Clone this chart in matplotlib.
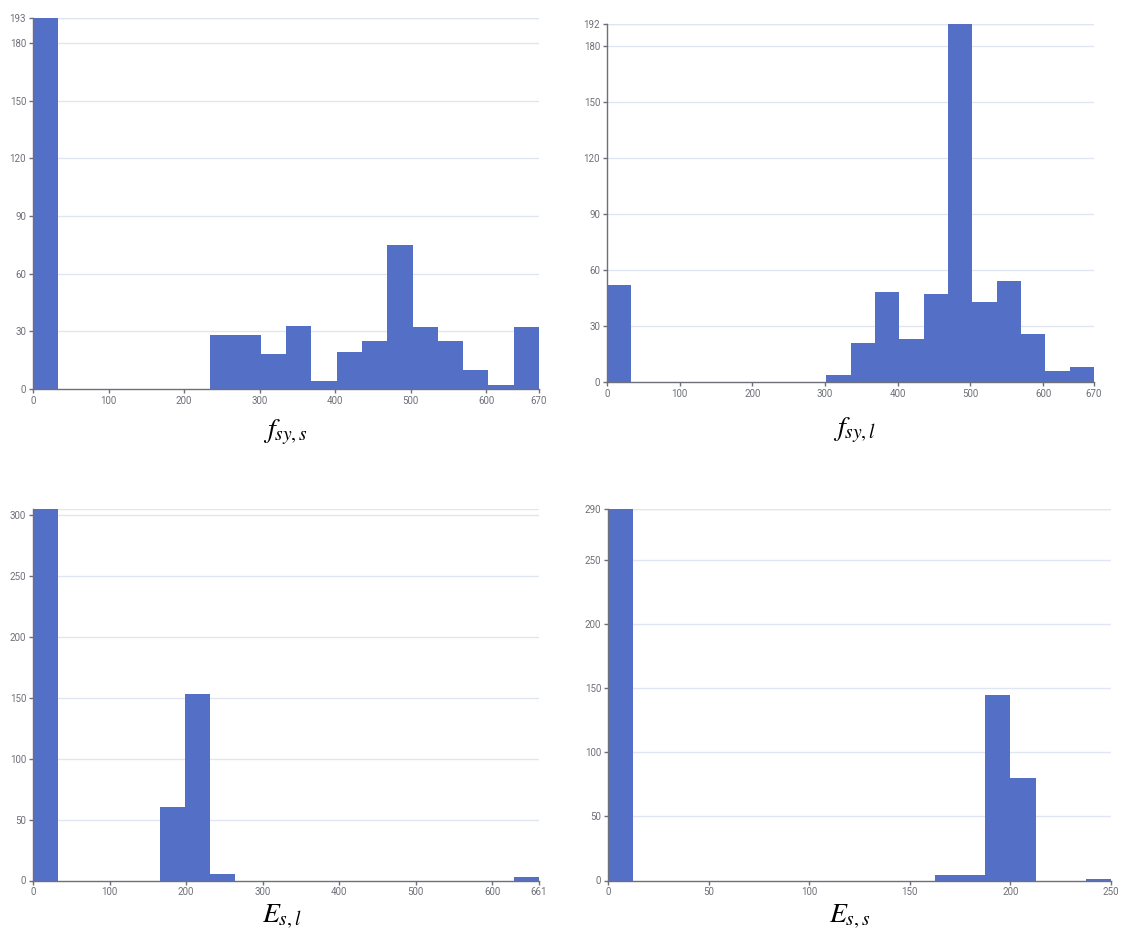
import numpy as np
import matplotlib
matplotlib.use("Agg")
import matplotlib.pyplot as plt

# ---- data (bin counts, 20 equal-width bins from 0 to xmax) ----
fsy_s_counts = [193, 0, 0, 0, 0, 0, 0, 28, 28, 18, 33, 4, 19, 25, 75, 32, 25, 10, 2, 32]
fsy_s_max = 670
fsy_l_counts = [52, 0, 0, 0, 0, 0, 0, 0, 0, 4, 21, 48, 23, 47, 192, 43, 54, 26, 6, 8]
fsy_l_max = 670
Es_l_counts = [305, 0, 0, 0, 0, 60, 153, 5, 0, 0, 0, 0, 0, 0, 0, 0, 0, 0, 0, 3]
Es_l_max = 661
Es_s_counts = [290, 0, 0, 0, 0, 0, 0, 0, 0, 0, 0, 0, 0, 4, 4, 145, 80, 0, 0, 1]
Es_s_max = 250

labels = [r'$f_{sy,s}$', r'$f_{sy,l}$', r'$E_{s,l}$', r'$E_{s,s}$']
xticks_list = [[0, 100, 200, 300, 400, 500, 600, 670],
               [0, 100, 200, 300, 400, 500, 600, 670],
               [0, 100, 200, 300, 400, 500, 600, 661],
               [0, 50, 100, 150, 200, 250]]
yticks_list = [[0, 30, 60, 90, 120, 150, 180, 193],
               [0, 30, 60, 90, 120, 150, 180, 192],
               [0, 50, 100, 150, 200, 250, 300],
               [0, 50, 100, 150, 200, 250, 290]]
ytop_list = [193, 192, 305, 290]

BAR = '#5470c6'
GRID = '#e0e6f1'
TXT = '#6e7079'

plt.rcParams['mathtext.fontset'] = 'stix'
plt.rcParams['font.family'] = ['Roboto', 'DejaVu Sans']

fig = plt.figure(figsize=(11.23, 9.41), dpi=100)
W, H = 1123, 941

def px_axes(x0, y0, x1, y1):
    return fig.add_axes([x0 / W, 1 - y1 / H, (x1 - x0) / W, (y1 - y0) / H])

boxes = [(33, 18, 539, 389), (607, 24, 1094, 382), (33, 509, 539, 880.5), (608, 509, 1111, 880.5)]
label_pos = [(285, 432), (855, 430), (282, 917), (850, 917)]
all_counts = [fsy_s_counts, fsy_l_counts, Es_l_counts, Es_s_counts]
maxes = [fsy_s_max, fsy_l_max, Es_l_max, Es_s_max]

for i in range(4):
    ax = px_axes(*boxes[i])
    counts = np.array(all_counts[i])
    edges = np.linspace(0, maxes[i], len(counts) + 1)
    ax.bar(edges[:-1], counts, width=np.diff(edges), align='edge', color=BAR,
           linewidth=0, zorder=3)
    ax.set_xlim(0, maxes[i])
    ax.set_ylim(0, ytop_list[i])
    ax.set_xticks(xticks_list[i])
    ax.set_yticks(yticks_list[i])
    for yv in list(yticks_list[i][1:]) + [ytop_list[i]]:
        ax.axhline(yv, color=GRID, lw=1, zorder=1)
    for s in ['top', 'right']:
        ax.spines[s].set_visible(False)
    for s in ['left', 'bottom']:
        ax.spines[s].set_color(TXT)
        ax.spines[s].set_linewidth(1)
        ax.spines[s].set_zorder(4)
    ax.tick_params(axis='both', colors=TXT, labelsize=7, length=3, width=1,
                   labelcolor=TXT, pad=2)
    ax.set_facecolor('white')
    fig.text(label_pos[i][0] / W, 1 - label_pos[i][1] / H, labels[i],
             ha='center', va='center', fontsize=20, color='black')

fig.savefig('out.png', dpi=100, facecolor='white')
